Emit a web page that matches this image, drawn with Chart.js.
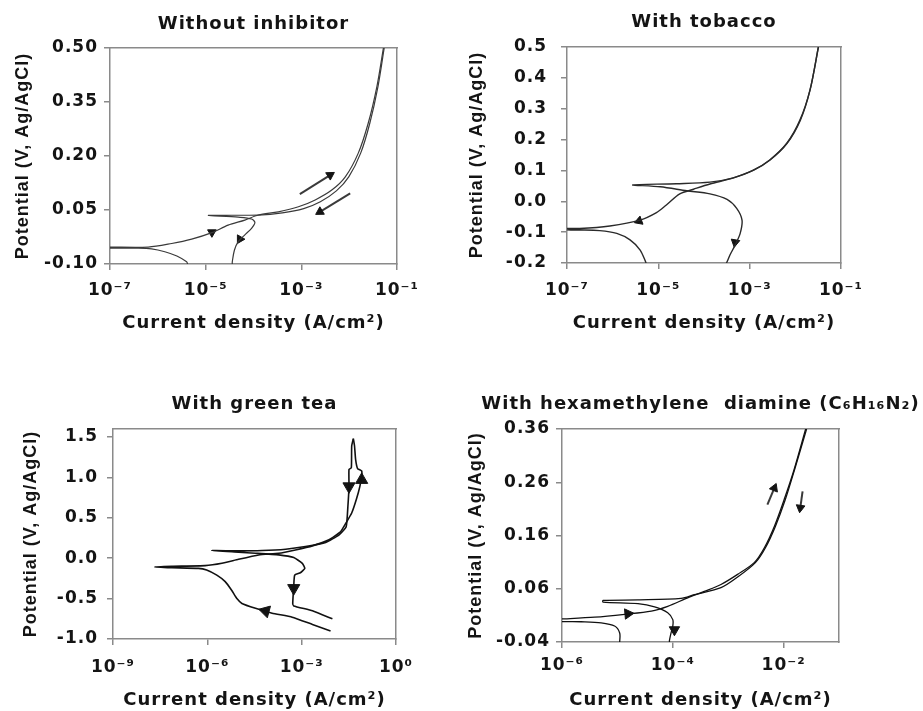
<!DOCTYPE html>
<html>
<head>
<meta charset="utf-8">
<script src="https://cdn.jsdelivr.net/npm/chart.js@4"></script>
<style>
  body { margin: 0; background: #fff; width: 923px; height: 711px; position: relative; overflow: hidden; }
  canvas { position: absolute; }
</style>
</head>
<body>
<canvas id="bare" width="460" height="345" style="left:0;top:0"></canvas>
<canvas id="tob" width="463" height="345" style="left:460px;top:0"></canvas>
<canvas id="tea" width="460" height="331" style="left:0;top:380px"></canvas>
<canvas id="hmda" width="463" height="331" style="left:460px;top:380px"></canvas>
<script>
// ---- Without inhibitor ----
const bareFwdI = [4.2e-6, 4.0e-6, 2.5e-6, 1.4e-6, 7.4e-7, 3.9e-7, 6.3e-8, 6.3e-8, 6.3e-7, 1.95e-6, 5.1e-6, 1.35e-5, 2.95e-5, 6.6e-5, 1.26e-4, 3.3e-4, 8.7e-4, 1.95e-3, 4.4e-3, 8.3e-3, 1.55e-2, 2.5e-2, 3.8e-2, 5.2e-2];
const bareFwdE = [-0.100, -0.094, -0.078, -0.066, -0.058, -0.056, -0.056, -0.053, -0.053, -0.043, -0.031, -0.013, 0.008, 0.022, 0.036, 0.045, 0.059, 0.078, 0.106, 0.142, 0.208, 0.291, 0.393, 0.500];
const bareRevI = [5.4e-2, 4.0e-2, 2.7e-2, 1.74e-2, 9.8e-3, 5.4e-3, 2.5e-3, 1.12e-3, 4.0e-4, 1.26e-4, 1.15e-5, 4.8e-5, 9.1e-5, 1.07e-4, 9.1e-5, 6.6e-5, 4.8e-5, 4.0e-5, 3.6e-5, 3.6e-5];
const bareRevE = [0.500, 0.393, 0.291, 0.208, 0.142, 0.103, 0.073, 0.054, 0.042, 0.036, 0.035, 0.030, 0.025, 0.015, -0.001, -0.019, -0.038, -0.061, -0.094, -0.100];
const bareHeadI = [1.35e-5, 5.2e-5];
const bareHeadE = [-0.012, -0.031];
const bareHeadRot = [60, 210];
const bareUpI = [9.3e-4, 4.0e-3], bareUpE = [0.094, 0.147];
const bareDownI = [1.05e-2, 2.45e-3], bareDownE = [0.096, 0.045];
const bareYTicks = [-0.10, 0.05, 0.20, 0.35, 0.50];
const bareYLabels = ['-0.10', '0.05', '0.20', '0.35', '0.50'];
const bareXTicks = [1e-7, 1e-5, 1e-3, 1e-1];
const bareXLabels = ['10⁻⁷', '10⁻⁵', '10⁻³', '10⁻¹'];

// ---- With tobacco ----
const tobFwdI = [5.4e-6, 4.0e-6, 2.4e-6, 1.23e-6, 5.2e-7, 1.9e-7, 6.3e-8, 6.3e-8, 1.9e-7, 8.7e-7, 4.0e-6, 9.1e-6, 1.5e-5, 2.95e-5, 5.9e-5, 1.35e-4, 4.4e-4, 1.2e-3, 2.75e-3, 6.5e-3, 1.26e-2, 2.1e-2, 3.2e-2];
const tobFwdE = [-0.200, -0.158, -0.125, -0.104, -0.095, -0.093, -0.092, -0.088, -0.088, -0.080, -0.061, -0.037, -0.012, 0.024, 0.039, 0.056, 0.076, 0.101, 0.134, 0.188, 0.263, 0.361, 0.500];
const tobRevI = [3.2e-2, 2.1e-2, 1.29e-2, 6.6e-3, 2.8e-3, 1.23e-3, 4.4e-4, 1.35e-4, 2.5e-5, 2.75e-6, 1.1e-5, 4.2e-5, 1.35e-4, 3.2e-4, 5.2e-4, 6.8e-4, 6.2e-4, 4.8e-4, 3.7e-4, 3.2e-4, 3.1e-4];
const tobRevE = [0.500, 0.361, 0.263, 0.188, 0.134, 0.101, 0.076, 0.062, 0.057, 0.053, 0.047, 0.034, 0.024, 0.006, -0.023, -0.061, -0.104, -0.142, -0.174, -0.196, -0.200];
const tobHeadI = [3.8e-6, 4.8e-4];
const tobHeadE = [-0.064, -0.133];
const tobHeadRot = [250, 190];
const tobYTicks = [-0.2, -0.1, 0.0, 0.1, 0.2, 0.3, 0.4, 0.5];
const tobYLabels = ['-0.2', '-0.1', '0.0', '0.1', '0.2', '0.3', '0.4', '0.5'];

// ---- With green tea ----
const teaFwdI = [8.3e-3, 2.2e-3, 5.0e-4, 1.15e-4, 3.4e-5, 1.26e-5, 8.7e-6, 6.0e-6, 3.7e-6, 2.0e-6, 9.5e-7, 5.2e-7, 7.4e-8, 2.1e-8, 7.4e-8, 8.5e-7, 2.9e-6, 9.8e-6, 4.3e-5, 1.86e-4, 6.3e-4, 2.2e-3, 7.4e-3, 1.74e-2, 2.6e-2, 3.9e-2, 5.5e-2, 7.1e-2, 8.1e-2, 8.1e-2, 6.0e-2, 5.2e-2, 4.8e-2, 4.4e-2];
const teaFwdE = [-0.90, -0.82, -0.73, -0.68, -0.62, -0.56, -0.50, -0.40, -0.29, -0.21, -0.146, -0.125, -0.117, -0.108, -0.100, -0.092, -0.063, -0.013, 0.041, 0.062, 0.103, 0.153, 0.228, 0.33, 0.44, 0.56, 0.73, 0.89, 1.02, 1.08, 1.11, 1.22, 1.39, 1.48];
const teaRevI = [4.4e-2, 3.9e-2, 3.8e-2, 3.2e-2, 3.2e-2, 2.95e-2, 2.6e-2, 1.55e-2, 5.8e-3, 1.32e-3, 3.1e-4, 5.5e-5, 9.8e-6, 1.38e-6, 9.8e-6, 3.4e-5, 1.86e-4, 5.6e-4, 1.05e-3, 1.26e-3, 9.1e-4, 6.0e-4, 5.6e-4, 5.2e-4, 5.6e-4, 2.2e-3, 9.5e-3];
const teaRevE = [1.48, 1.39, 1.12, 1.10, 0.89, 0.64, 0.39, 0.29, 0.195, 0.145, 0.112, 0.095, 0.091, 0.095, 0.075, 0.062, 0.041, 0.008, -0.063, -0.125, -0.18, -0.21, -0.35, -0.56, -0.59, -0.65, -0.75];
const teaHeadI = [7.1e-5, 5.6e-4, 3.2e-2, 8.1e-2];
const teaHeadE = [-0.654, -0.37, 0.89, 0.97];
const teaHeadRot = [285, 180, 180, 0];
const teaYTicks = [-1.0, -0.5, 0.0, 0.5, 1.0, 1.5];
const teaYLabels = ['-1.0', '-0.5', '0.0', '0.5', '1.0', '1.5'];
const teaXTicks = [1e-9, 1e-6, 1e-3, 1];
const teaXLabels = ['10⁻⁹', '10⁻⁶', '10⁻³', '10⁰'];

// ---- With hexamethylene diamine ----
const hmdaFwdI = [1.1e-5, 1.1e-5, 8.9e-6, 5.1e-6, 2.2e-6, 7.9e-7, 7.9e-7, 1.12e-6, 3.9e-6, 1.35e-5, 4.1e-5, 8.1e-5, 1.86e-4, 3.7e-4, 7.4e-4, 1.48e-3, 2.95e-3, 4.5e-3, 6.8e-3, 1.02e-2, 1.55e-2, 2.5e-2];
const hmdaFwdE = [-0.040, -0.023, -0.010, -0.004, -0.002, -0.001, 0.003, 0.0035, 0.0066, 0.012, 0.018, 0.027, 0.043, 0.055, 0.068, 0.087, 0.109, 0.137, 0.177, 0.227, 0.284, 0.360];
const hmdaRevI = [2.6e-2, 1.58e-2, 1.07e-2, 7.1e-3, 4.7e-3, 3.1e-3, 1.48e-3, 7.4e-4, 2.45e-4, 1.41e-4, 2.35e-5, 5.5e-6, 5.5e-6, 2.35e-5, 4.7e-5, 8.1e-5, 1.0e-4, 1.0e-4, 9.3e-5, 8.7e-5, 8.7e-5];
const hmdaRevE = [0.360, 0.284, 0.227, 0.177, 0.137, 0.109, 0.082, 0.062, 0.049, 0.042, 0.039, 0.038, 0.035, 0.032, 0.026, 0.015, 0.002, -0.010, -0.023, -0.037, -0.040];
const hmdaHeadI = [1.55e-5, 1.07e-4];
const hmdaHeadE = [0.013, -0.017];
const hmdaHeadRot = [85, 180];
const hmdaUpI = [5.1e-3, 6.8e-3], hmdaUpE = [0.218, 0.249];
const hmdaDownI = [2.2e-2, 2.0e-2], hmdaDownE = [0.243, 0.212];
const hmdaYTicks = [-0.04, 0.06, 0.16, 0.26, 0.36];
const hmdaYLabels = ['-0.04', '0.06', '0.16', '0.26', '0.36'];
const hmdaXTicks = [1e-6, 1e-4, 1e-2];
const hmdaXLabels = ['10⁻⁶', '10⁻⁴', '10⁻²'];

const INK = '#141414';
const FRAME = '#8a8a8a';
const WIDE = "'DejaVu Sans', sans-serif";
const PLAIN = "'Liberation Sans', Arial, sans-serif";

const pts = (xs, ys) => xs.map((x, i) => ({ x, y: ys[i] }));

function curve(xs, ys, color, width, tension) {
  return { data: pts(xs, ys), showLine: true, borderColor: color, borderWidth: width,
    pointRadius: 0, tension: tension, borderJoinStyle: 'round' };
}
function heads(xs, ys, rot, size) {
  return { data: pts(xs, ys), showLine: false, pointStyle: 'triangle', pointRadius: size,
    pointRotation: rot, backgroundColor: INK, borderColor: INK, borderWidth: 1 };
}
function stem(xs, ys, rot, size) {
  return { data: pts(xs, ys), showLine: true, borderColor: '#3a3a3a', borderWidth: 2, pointStyle: 'triangle',
    pointRadius: [0, size], pointRotation: [0, rot], pointBackgroundColor: INK, pointBorderColor: INK, pointBorderWidth: 1 };
}

// wider text, closer to the scanned figure
const spacing = {
  id: 'spacing',
  beforeDraw(chart) { chart.ctx.letterSpacing = '1px'; }
};

const panelTitle = {
  id: 'panelTitle',
  afterDraw(chart, args, opts) {
    const { ctx, chartArea: a } = chart;
    ctx.save();
    ctx.font = 'bold 18px ' + WIDE;
    ctx.fillStyle = INK;
    ctx.textAlign = 'center';
    ctx.textBaseline = 'middle';
    ctx.fillText(opts.text, (a.left + a.right) / 2, opts.y);
    ctx.restore();
  }
};

function makePanel(id, p) {
  const cv = document.getElementById(id);
  const edge = (pos) => ({
    type: 'linear', position: pos, min: 0, max: 1,
    ticks: { display: false },
    grid: { drawOnChartArea: false, drawTicks: false, color: FRAME },
    border: { display: true, color: FRAME, width: 1.5 },
    afterFit: s => { if (pos === 'top') s.height = 0; else s.width = 0; }
  });
  new Chart(cv, {
    type: 'scatter',
    data: { datasets: p.datasets },
    options: {
      responsive: false,
      animation: false,
      events: [],
      layout: { padding: { left: 0, top: p.top, right: p.right, bottom: 0 } },
      plugins: {
        legend: { display: false },
        tooltip: { enabled: false },
        panelTitle: { text: p.title, y: p.titleY }
      },
      scales: {
        x: {
          type: 'logarithmic', min: p.xMin, max: p.xMax,
          afterFit: s => { s.height = p.xh; },
          afterBuildTicks: s => { s.ticks = p.xTicks.map(v => ({ value: v })); },
          ticks: { callback: (v, i) => p.xLabels[i], autoSkip: false, maxRotation: 0,
            color: INK, padding: p.xTickPad, font: { family: WIDE, size: 17, weight: 'bold' } },
          grid: { drawOnChartArea: false, tickLength: 6, color: FRAME, lineWidth: 1.5 },
          border: { color: FRAME, width: 1.5 },
          title: { display: true, text: 'Current density (A/cm²)', color: INK,
            padding: { top: 0, bottom: p.xTitlePad }, font: { family: WIDE, size: 18, weight: 'bold' } }
        },
        y: {
          type: 'linear', min: p.yMin, max: p.yMax,
          afterFit: s => { s.width = p.left; },
          afterBuildTicks: s => { s.ticks = p.yTicks.map(v => ({ value: v })); },
          ticks: { callback: (v, i) => p.yLabels[i], autoSkip: false,
            color: INK, padding: p.yTickPad, font: { family: WIDE, size: 17, weight: 'bold' } },
          grid: { drawOnChartArea: false, tickLength: 6, color: FRAME, lineWidth: 1.5 },
          border: { color: FRAME, width: 1.5 },
          title: { display: true, text: 'Potential (V, Ag/AgCl)', color: INK,
            padding: { top: p.yTitlePad, bottom: 0 }, font: { family: PLAIN, size: 18, weight: 'bold' } }
        },
        x2: edge('top'),
        y2: edge('right')
      }
    },
    plugins: [spacing, panelTitle]
  });
}

makePanel('bare', {
  title: 'Without inhibitor', titleY: 24,
  left: 110, top: 48, right: 63, xh: 81,
  yTitlePad: 12, yTickPad: 6, xTickPad: 10, xTitlePad: 11,
  xMin: 1e-7, xMax: 1e-1, yMin: -0.10, yMax: 0.50,
  xTicks: bareXTicks, xLabels: bareXLabels, yTicks: bareYTicks, yLabels: bareYLabels,
  datasets: [
    curve(bareFwdI, bareFwdE, '#3a3a3a', 1.2, 0.3),
    curve(bareRevI, bareRevE, '#3a3a3a', 1.2, 0.3),
    stem(bareUpI, bareUpE, 58, 5),
    stem(bareDownI, bareDownE, 239, 5),
    heads(bareHeadI, bareHeadE, bareHeadRot, 5)
  ]
});

makePanel('tob', {
  title: 'With tobacco', titleY: 22,
  left: 107, top: 47, right: 82, xh: 82,
  yTitlePad: 6, yTickPad: 14, xTickPad: 11, xTitlePad: 11,
  xMin: 1e-7, xMax: 1e-1, yMin: -0.2, yMax: 0.5,
  xTicks: bareXTicks, xLabels: bareXLabels, yTicks: tobYTicks, yLabels: tobYLabels,
  datasets: [
    curve(tobFwdI, tobFwdE, '#2a2a2a', 1.4, 0.3),
    curve(tobRevI, tobRevE, '#2a2a2a', 1.4, 0.3),
    heads(tobHeadI, tobHeadE, tobHeadRot, 5)
  ]
});

makePanel('tea', {
  title: 'With green tea', titleY: 24,
  left: 113, top: 49, right: 64, xh: 72,
  yTitlePad: 20, yTickPad: 9, xTickPad: 12, xTitlePad: 0,
  xMin: 1e-9, xMax: 1, yMin: -1.0, yMax: 1.6,
  xTicks: teaXTicks, xLabels: teaXLabels, yTicks: teaYTicks, yLabels: teaYLabels,
  datasets: [
    curve(teaFwdI, teaFwdE, '#111', 1.6, 0.15),
    curve(teaRevI, teaRevE, '#111', 1.6, 0.15),
    heads(teaHeadI, teaHeadE, teaHeadRot, 7)
  ]
});

makePanel('hmda', {
  title: 'With hexamethylene  diamine (C₆H₁₆N₂)', titleY: 24,
  left: 102, top: 49, right: 84, xh: 69,
  yTitlePad: 5, yTickPad: 6, xTickPad: 7, xTitlePad: 0,
  xMin: 1e-6, xMax: 1e-1, yMin: -0.04, yMax: 0.36,
  xTicks: hmdaXTicks, xLabels: hmdaXLabels, yTicks: hmdaYTicks, yLabels: hmdaYLabels,
  datasets: [
    curve(hmdaFwdI, hmdaFwdE, '#111', 1.3, 0.3),
    curve(hmdaRevI, hmdaRevE, '#111', 1.3, 0.3),
    stem(hmdaUpI, hmdaUpE, 22, 5),
    stem(hmdaDownI, hmdaDownE, 188, 5),
    heads(hmdaHeadI, hmdaHeadE, hmdaHeadRot, 6)
  ]
});
</script>
</body>
</html>
